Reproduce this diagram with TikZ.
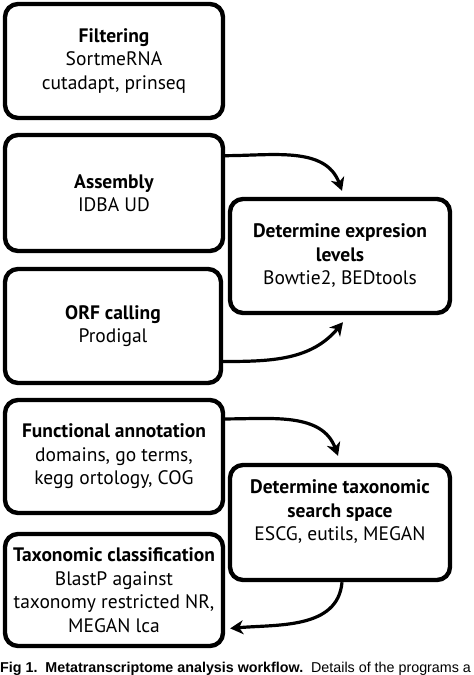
\documentclass[tikz,border=0pt]{standalone}
\usepackage{fontspec}
\setmainfont{PT Sans}
\newfontfamily\capfont{Liberation Sans}
\usetikzlibrary{arrows.meta,calc}
\begin{document}
\begin{tikzpicture}[x=1pt,y=1pt,
  box/.style={draw, line width=4.4pt, rounded corners=13pt, align=center,
    font=\fontsize{19.5}{23.5}\selectfont, inner sep=0pt,
    minimum width=218pt},
  txt/.style={align=center, font=\fontsize{19.5}{23.5}\selectfont, inner sep=0pt},
  flow/.style={line width=3.2pt, -{Stealth[length=13pt,width=14pt,inset=4pt]}},
  ]
\useasboundingbox (0,0) rectangle (474,675);
\node[box, minimum height=114pt] (filt) at (114,614)
  {\textbf{Filtering}\\SortmeRNA\\cutadapt, prinseq};
\node[box, minimum height=116pt] (asm) at (114,482)
  {\textbf{Assembly}\\IDBA UD};
\node[box, minimum height=114pt, minimum width=216pt] (orf) at (113,349)
  {\textbf{ORF calling}\\Prodigal};
\node[box, minimum height=113pt] (func) at (114,218.5)
  {\textbf{Functional annotation}\\domains, go terms,\\kegg ortology, COG};
\node[box, minimum height=112pt] (cls) at (114,85)
  {\textbf{Taxonomic classification}\\BlastP against\\taxonomy restricted NR,\\MEGAN lca};
\node[box, minimum height=114pt, minimum width=220pt] (expr) at (340,419)
  {\textbf{Determine expresion}\\\textbf{levels}\\Bowtie2, BEDtools};
\node[box, minimum height=115pt, minimum width=220pt] (srch) at (340,152.5) {};
\node[txt] (srchtxt) at (340,163)
  {\textbf{Determine taxonomic}\\\textbf{search space}\\ESCG, eutils, MEGAN};
\draw[flow] ($(asm.north east)!0.19!(asm.south east)$) to[out=0,in=110] ($(expr.north)+(2,6)$);
\draw[flow] ($(orf.north east)!0.8!(orf.south east)$) to[out=0,in=-130] ($(expr.south)+(3,-7)$);
\draw[flow] ($(func.north east)!0.18!(func.south east)$) to[out=0,in=110] ($(srch.north)+(-2,7)$);
\draw[flow] ($(srch.south)+(2,0)$) to[out=-95,in=5] ($(cls.north east)!0.83!(cls.south east)+(5,0)$);
\node[anchor=base west, inner sep=0pt, font=\capfont\fontsize{14.3}{16}\selectfont] (cap) at (0,2)
  {\textbf{Fig 1.\ \ Metatranscriptome analysis workflow.}\ \ Details of the programs a};
\end{tikzpicture}
\end{document}
